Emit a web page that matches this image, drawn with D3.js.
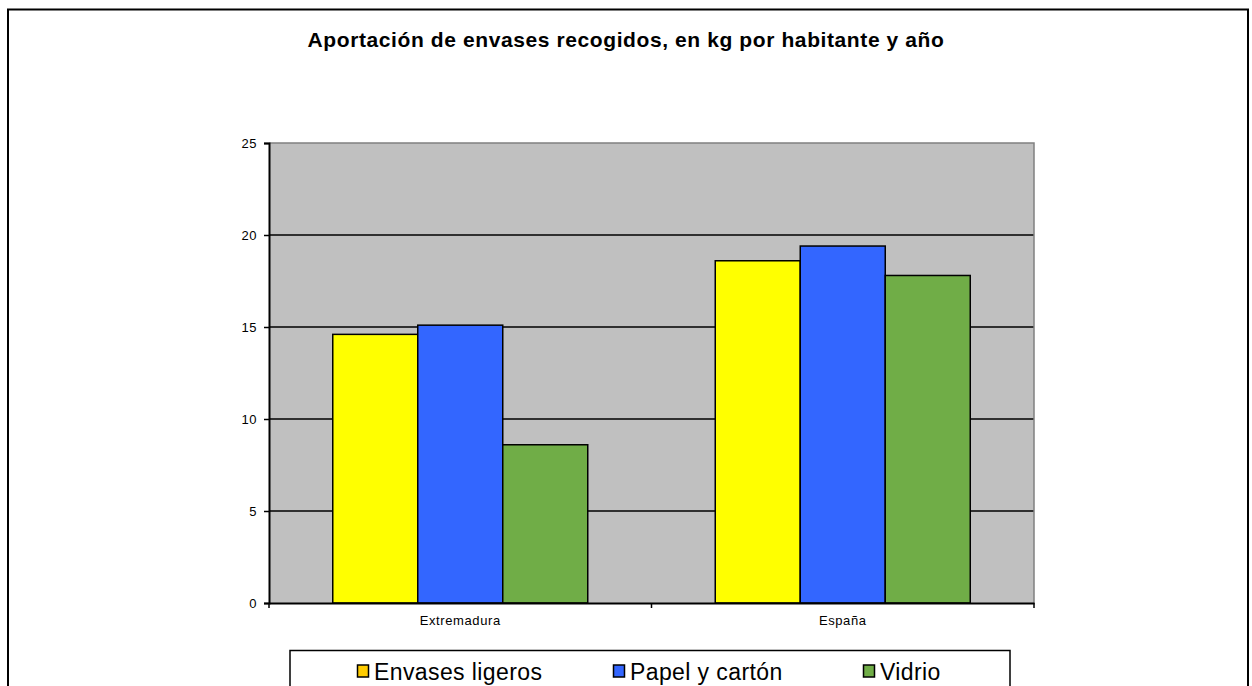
<!DOCTYPE html>
<html>
<head>
<meta charset="utf-8">
<script src="https://cdn.jsdelivr.net/npm/d3@7"></script>
<style>
  body { margin: 0; background: #fff; }
  text { font-family: Arial, "Liberation Sans", sans-serif; }
</style>
</head>
<body>
<script>
/* ---------------------- Data ---------------------- */
var categories = ["Extremadura", "España"];
var seriesNames = ["Envases ligeros", "Papel y cartón", "Vidrio"];
var envasesLigeros = [14.6, 18.6];
var papelCarton = [15.1, 19.4];
var vidrio = [8.6, 17.8];
var yTicks = [0, 5, 10, 15, 20, 25];

var barColors = ["#FFFF00", "#3366FF", "#70AD47"];
var legendColors = ["#FFCC00", "#3366FF", "#70AD47"];

var W = 1252, H = 686;
var plot = {left: 269, top: 143, right: 1034, bottom: 603};
var font = "Arial, 'Liberation Sans', sans-serif";

var values = [envasesLigeros, papelCarton, vidrio];
var data = categories.map((c, i) => ({cat: c, vals: values.map(v => v[i])}));

/* ---------------------- Chart ---------------------- */
var svg = d3.select("body").append("svg")
    .attr("width", W)
    .attr("height", H);

// outer frame
svg.append("rect")
    .attr("x", 8).attr("y", 9.5)
    .attr("width", 1240).attr("height", 700)
    .attr("fill", "#fff")
    .attr("stroke", "#000").attr("stroke-width", 2);

svg.append("text")
    .attr("x", 626).attr("y", 47)
    .attr("text-anchor", "middle")
    .attr("font-size", 21).attr("font-weight", "bold")
    .attr("letter-spacing", 0.6)
    .text("Aportación de envases recogidos, en kg por habitante y año");

var x0 = d3.scaleBand()
    .domain(categories)
    .range([plot.left, plot.right])
    .paddingInner(0).paddingOuter(0);

var x1 = d3.scaleBand()
    .domain(seriesNames)
    .range([0, x0.bandwidth()])
    .paddingInner(0).paddingOuter(0.75);

var y = d3.scaleLinear()
    .domain([0, 25])
    .range([plot.bottom, plot.top]);

// plot background
svg.append("rect")
    .attr("x", plot.left).attr("y", plot.top)
    .attr("width", plot.right - plot.left).attr("height", plot.bottom - plot.top)
    .attr("fill", "#C0C0C0");

// gridlines
svg.append("g")
    .selectAll("line")
    .data(yTicks.filter(d => d > 0 && d < 25))
    .enter().append("line")
    .attr("x1", plot.left).attr("x2", plot.right)
    .attr("y1", d => y(d)).attr("y2", d => y(d))
    .attr("stroke", "#000").attr("stroke-width", 1.5);

// top and right plot edges
svg.append("path")
    .attr("d", `M${plot.left},${plot.top}H${plot.right}V${plot.bottom}`)
    .attr("fill", "none")
    .attr("stroke", "#808080").attr("stroke-width", 1.5);

// bars
var groups = svg.append("g")
    .selectAll("g")
    .data(data)
    .enter().append("g")
    .attr("transform", d => `translate(${x0(d.cat)},0)`);

groups.selectAll("rect")
    .data(d => d.vals.map((v, i) => ({name: seriesNames[i], value: v, i: i})))
    .enter().append("rect")
    .attr("x", d => x1(d.name))
    .attr("y", d => y(d.value))
    .attr("width", x1.bandwidth())
    .attr("height", d => y(0) - y(d.value))
    .attr("fill", d => barColors[d.i])
    .attr("stroke", "#000").attr("stroke-width", 1.5);

// y axis
var yAxis = d3.axisLeft(y)
    .tickValues(yTicks)
    .tickSize(5)
    .tickPadding(7);

var gy = svg.append("g")
    .attr("transform", `translate(${plot.left},0)`)
    .call(yAxis);
gy.select(".domain").attr("stroke", "#000").attr("stroke-width", 2);
gy.selectAll(".tick line").attr("stroke", "#000").attr("stroke-width", 1.5);
gy.selectAll(".tick text").attr("font-size", 13).attr("fill", "#000")
    .attr("letter-spacing", 0.5)
    .attr("font-family", font);

// x axis
var xAxis = d3.axisBottom(x0)
    .tickSize(0)
    .tickPadding(13);

var gx = svg.append("g")
    .attr("transform", `translate(0,${plot.bottom})`)
    .call(xAxis);
gx.select(".domain").attr("stroke", "#000").attr("stroke-width", 2);
gx.selectAll(".tick text").attr("font-size", 13).attr("fill", "#000")
    .attr("letter-spacing", 0.6)
    .attr("font-family", font);

// category separators
svg.append("g")
    .selectAll("line")
    .data(categories.concat([null]))
    .enter().append("line")
    .attr("x1", (d, i) => plot.left + i * x0.bandwidth())
    .attr("x2", (d, i) => plot.left + i * x0.bandwidth())
    .attr("y1", plot.bottom).attr("y2", plot.bottom + 5)
    .attr("stroke", "#000").attr("stroke-width", 1.5);

// legend
svg.append("rect")
    .attr("x", 290).attr("y", 650.5)
    .attr("width", 720).attr("height", 60)
    .attr("fill", "#fff")
    .attr("stroke", "#000").attr("stroke-width", 1.5);

var legendX = [357, 613, 863];
var lg = svg.append("g")
    .selectAll("g")
    .data(seriesNames)
    .enter().append("g")
    .attr("transform", (d, i) => `translate(${legendX[i]},0)`);

lg.append("rect")
    .attr("x", 0.5).attr("y", 665)
    .attr("width", 11).attr("height", 12)
    .attr("fill", (d, i) => legendColors[i])
    .attr("stroke", "#000").attr("stroke-width", 1.5);

lg.append("text")
    .attr("x", 17).attr("y", 680)
    .attr("font-size", 23)
    .attr("letter-spacing", 0.4)
    .text(d => d);
</script>
</body>
</html>
